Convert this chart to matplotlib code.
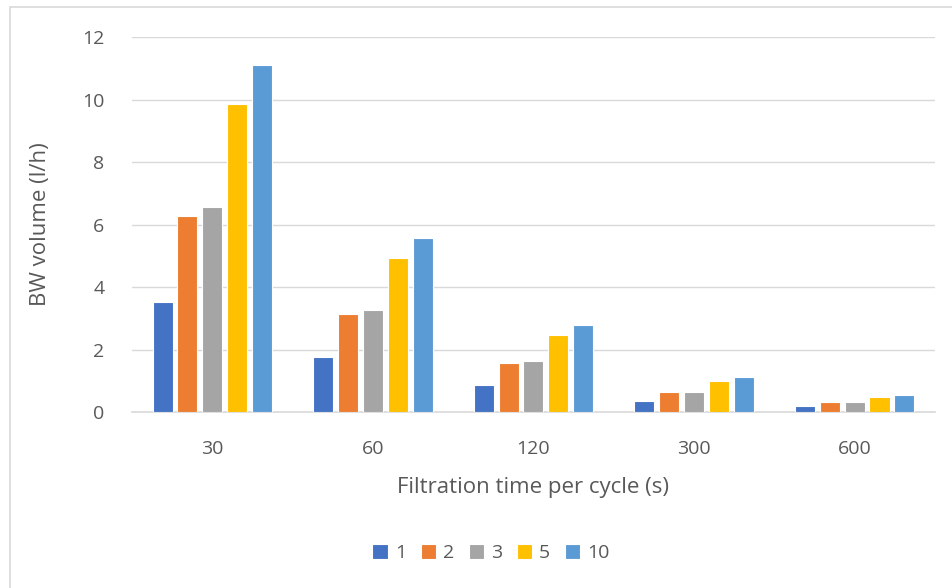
import numpy as np
import matplotlib.pyplot as plt
from matplotlib.patches import Rectangle

# filtration time per cycle (s) and BW volume (l/h) per series
categories = ['30', '60', '120', '300', '600']
series_names = ['1', '2', '3', '5', '10']
vol_1 = [3.52, 1.76, 0.87, 0.35, 0.18]
vol_2 = [6.28, 3.14, 1.57, 0.63, 0.32]
vol_3 = [6.55, 3.27, 1.64, 0.65, 0.33]
vol_5 = [9.86, 4.93, 2.47, 0.98, 0.49]
vol_10 = [11.12, 5.56, 2.77, 1.11, 0.55]

colors = ['#4472C4', '#ED7D31', '#A5A5A5', '#FFC000', '#5B9BD5']
plt.rcParams['font.family'] = ['Open Sans', 'DejaVu Sans']

fig = plt.figure(figsize=(9.52, 5.88), dpi=100)
# chart frame, only its top and left edges fall inside the image
fig.patches.append(Rectangle((9.5 / 952, -0.1), 1.2, 1.1 - 7.5 / 588, transform=fig.transFigure,
                             fill=False, edgecolor='#D9D9D9', linewidth=1.2))
ax = fig.add_axes([0.1387, 0.2993, 0.8433, 0.6377])

x = np.arange(len(categories))
step = 0.155
width = 0.125
for i, (name, vals) in enumerate(zip(series_names, [vol_1, vol_2, vol_3, vol_5, vol_10])):
    ax.bar(x + (i - 2) * step, vals, width, color=colors[i], label=name,
           edgecolor='white', linewidth=0.8, zorder=3)

ax.set_xlim(-0.5, len(categories) - 0.5)
ax.set_ylim(0, 12)
ax.set_yticks(range(0, 13, 2))
ax.set_xticks(x)
ax.set_xticklabels(categories)
ax.grid(axis='y', color='#D9D9D9', linewidth=1, zorder=0)
for s in ['top', 'right', 'left']:
    ax.spines[s].set_visible(False)
ax.spines['bottom'].set_color('#D9D9D9')
ax.spines['bottom'].set_linewidth(1.2)
ax.tick_params(length=0, labelsize=14, labelcolor='#595959')
ax.tick_params(axis='x', pad=20)
ax.tick_params(axis='y', pad=20)
ax.set_xlabel('Filtration time per cycle (s)', fontsize=16, color='#595959', labelpad=14)
ax.set_ylabel('BW volume (l/h)', fontsize=16, color='#595959', labelpad=22)

leg = ax.legend(loc='center', ncol=5, frameon=False, fontsize=14, labelcolor='#595959',
                handlelength=0.8, handleheight=0.8, handletextpad=0.35, columnspacing=0.75)
leg.set_bbox_to_anchor((491 / 952, 1 - 553 / 588), transform=fig.transFigure)

fig.savefig('out.png', dpi=100)
